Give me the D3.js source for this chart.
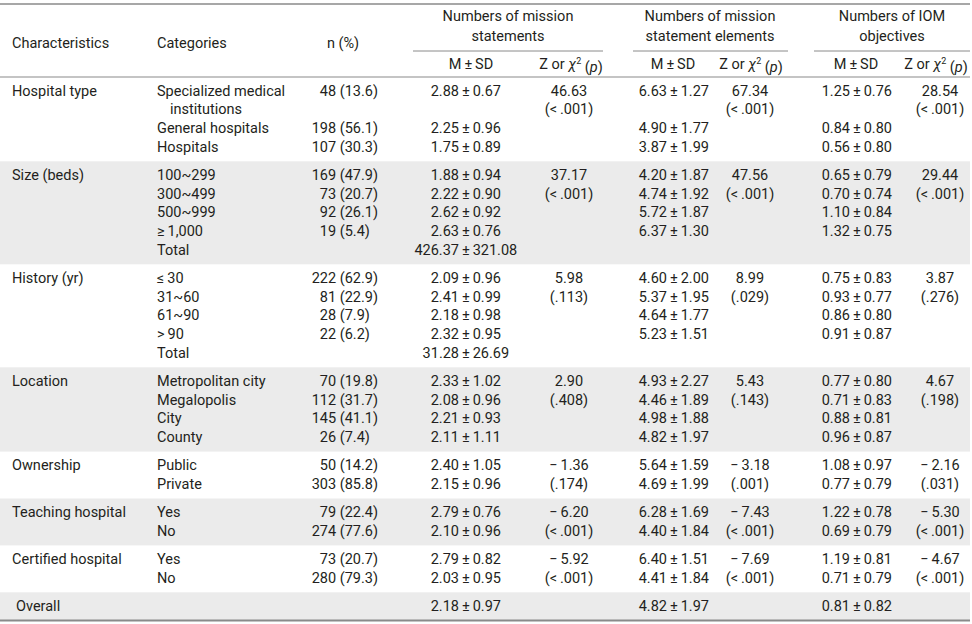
<!DOCTYPE html>
<html><head><meta charset="utf-8">
<script src="https://cdn.jsdelivr.net/npm/d3@7"></script>
<style>
html,body{margin:0;padding:0;background:#fff;}
svg{display:block;}
text{font-family:Roboto,"Noto Sans",sans-serif;font-size:14.5px;fill:#231f20;}
</style></head>
<body>
<svg id="chart" width="972" height="624"></svg>
<script>
// ---------- data ----------
const characteristics = ["Hospital type","Size (beds)","History (yr)","Location","Ownership","Teaching hospital","Certified hospital","Overall"];
const rowGroup   = [0,0,0, 1,1,1,1,1, 2,2,2,2,2, 3,3,3,3, 4,4, 5,5, 6,6, 7];
const categories = ["Specialized medical|institutions","General hospitals","Hospitals",
  "100~299","300~499","500~999","\u2265\u20091,000","Total",
  "\u2264\u200930","31~60","61~90",">\u200990","Total",
  "Metropolitan city","Megalopolis","City","County",
  "Public","Private","Yes","No","Yes","No",""];
const nCount = [48,198,107, 169,73,92,19,null, 222,81,28,22,null, 70,112,145,26, 50,303, 79,274, 73,280, null];
const nPct   = [13.6,56.1,30.3, 47.9,20.7,26.1,5.4,null, 62.9,22.9,7.9,6.2,null, 19.8,31.7,41.1,7.4, 14.2,85.8, 22.4,77.6, 20.7,79.3, null];
const statementMean = [2.88,2.25,1.75, 1.88,2.22,2.62,2.63,426.37, 2.09,2.41,2.18,2.32,31.28, 2.33,2.08,2.21,2.11, 2.40,2.15, 2.79,2.10, 2.79,2.03, 2.18];
const statementSD   = [0.67,0.96,0.89, 0.94,0.90,0.92,0.76,321.08, 0.96,0.99,0.98,0.95,26.69, 1.02,0.96,0.93,1.11, 1.05,0.96, 0.76,0.96, 0.82,0.95, 0.97];
const elementMean   = [6.63,4.90,3.87, 4.20,4.74,5.72,6.37,null, 4.60,5.37,4.64,5.23,null, 4.93,4.46,4.98,4.82, 5.64,4.69, 6.28,4.40, 6.40,4.41, 4.82];
const elementSD     = [1.27,1.77,1.99, 1.87,1.92,1.87,1.30,null, 2.00,1.95,1.77,1.51,null, 2.27,1.89,1.88,1.97, 1.59,1.99, 1.69,1.84, 1.51,1.84, 1.97];
const iomMean       = [1.25,0.84,0.56, 0.65,0.70,1.10,1.32,null, 0.75,0.93,0.86,0.91,null, 0.77,0.71,0.88,0.96, 1.08,0.77, 1.22,0.69, 1.19,0.71, 0.81];
const iomSD         = [0.76,0.80,0.80, 0.79,0.74,0.84,0.75,null, 0.83,0.77,0.80,0.87,null, 0.80,0.83,0.81,0.87, 0.97,0.79, 0.78,0.79, 0.81,0.79, 0.82];
const statementStat = [46.63,37.17,5.98,2.90,-1.36,-6.20,-5.92,null];
const statementP    = ["<.001","<.001",".113",".408",".174","<.001","<.001",null];
const elementStat   = [67.34,47.56,8.99,5.43,-3.18,-7.43,-7.69,null];
const elementP      = ["<.001","<.001",".029",".143",".001","<.001","<.001",null];
const iomStat       = [28.54,29.44,3.87,4.67,-2.16,-5.30,-4.67,null];
const iomP          = ["<.001","<.001",".276",".198",".031","<.001","<.001",null];
const groupTitles = [["Numbers of mission","statements"],["Numbers of mission","statement elements"],["Numbers of IOM","objectives"]];

// ---------- layout ----------
const svg = d3.select("#chart");
const W = 970, headerBottom = 77, lineH = 18.7, groupPad = 9.5, firstOff = 13.5;

const rowLines = categories.map(c => c.split("|").length);
const groupLineCount = characteristics.map((_, g) => d3.sum(rowLines.filter((_, i) => rowGroup[i] === g)));
const groupTop = [];
let acc = headerBottom;
groupLineCount.forEach((n, g) => { groupTop.push(acc); acc += n * lineH + groupPad; });
const tableBottom = acc;

const rowY = [];
{
  const used = characteristics.map(() => 0);
  categories.forEach((c, i) => {
    const g = rowGroup[i];
    rowY.push(groupTop[g] + firstOff + used[g] * lineH);
    used[g] += rowLines[i];
  });
}
const lineY = (g, k) => groupTop[g] + firstOff + k * lineH;

const colX = d3.scaleOrdinal()
  .domain(["char","cat","nEnd","pm1","z1","pm2","z2","pm3","z3","g1","g2","g3"])
  .range([12,157,378,459,569,667,750,850,940,508,710,892]);

// stripes
const stripeGroups = [1,3,5,7];
svg.append("g").selectAll("rect").data(stripeGroups).join("rect")
  .attr("x", 0).attr("width", W)
  .attr("y", g => groupTop[g])
  .attr("height", g => (g + 1 < groupTop.length ? groupTop[g + 1] : tableBottom) - groupTop[g])
  .attr("fill", "#ebebeb");

// rules
const rules = svg.append("g").attr("stroke", "#8a8a8a");
rules.append("line").attr("x1", 0).attr("x2", W).attr("y1", 4).attr("y2", 4).attr("stroke-width", 1.5);
rules.append("line").attr("x1", 0).attr("x2", W).attr("y1", headerBottom).attr("y2", headerBottom).attr("stroke-width", 1.2);
rules.append("line").attr("x1", 0).attr("x2", W).attr("y1", tableBottom).attr("y2", tableBottom).attr("stroke-width", 2.2);
const spans = [[413,603],[633,788],[814,970]];
rules.selectAll(".sp").data(spans).join("line")
  .attr("x1", d => d[0]).attr("x2", d => d[1]).attr("y1", 51).attr("y2", 51).attr("stroke-width", 1);

// header
const hdr = svg.append("g");
hdr.append("text").attr("x", colX("char")).attr("y", 43).attr("dy", "0.35em").text("Characteristics");
hdr.append("text").attr("x", colX("cat")).attr("y", 43).attr("dy", "0.35em").text("Categories");
hdr.append("text").attr("x", 343).attr("y", 43).attr("dy", "0.35em").attr("text-anchor", "middle").text("n (%)");
["g1","g2","g3"].forEach((k, i) => {
  groupTitles[i].forEach((t, j) => {
    hdr.append("text").attr("x", colX(k)).attr("y", 16 + j * 19.5).attr("dy", "0.35em")
      .attr("text-anchor", "middle").text(t);
  });
});
const subM = [471, 673, 856];
subM.forEach(x => hdr.append("text").attr("x", x).attr("y", 64).attr("dy", "0.35em").attr("text-anchor", "middle").text("M\u2009\u00b1\u2009SD"));
[571, 751, 936].forEach(x => {
  const t = hdr.append("text").attr("x", x).attr("y", 64).attr("dy", "0.35em").attr("text-anchor", "middle");
  t.append("tspan").text("Z or ");
  t.append("tspan").attr("font-style", "italic").text("\u03c7");
  t.append("tspan").attr("font-size", "9px").attr("dy", "-0.6em").text("2");
  t.append("tspan").attr("dy", "0.6em").text(" (");
  t.append("tspan").attr("font-style", "italic").text("p");
  t.append("tspan").text(")");
});

// body
const body = svg.append("g");
body.selectAll(".ch").data(characteristics).join("text")
  .attr("x", (d, g) => g === 7 ? 16 : colX("char"))
  .attr("y", (d, g) => lineY(g, 0)).attr("dy", "0.35em").text(d => d);
categories.forEach((c, i) => {
  c.split("|").forEach((part, j) => {
    body.append("text").attr("x", colX("cat") + (j > 0 ? 13 : 0))
      .attr("y", rowY[i] + j * lineH).attr("dy", "0.35em").text(part);
  });
});
const digitW = (() => { const t = svg.append("text").text("0"); const w = t.node().getComputedTextLength(); t.remove(); return w; })();
nCount.forEach((n, i) => {
  if (n == null) return;
  const pad = nPct[i] < 10 ? digitW : 0;
  body.append("text").attr("x", colX("nEnd") - pad).attr("y", rowY[i]).attr("dy", "0.35em")
    .attr("text-anchor", "end").text(`${n} (${nPct[i].toFixed(1)})`);
});
function msd(means, sds, key) {
  means.forEach((m, i) => {
    if (m == null) return;
    body.append("text").attr("x", colX(key)).attr("y", rowY[i]).attr("dy", "0.35em")
      .attr("text-anchor", "end").text(m.toFixed(2));
    body.append("text").attr("x", colX(key)).attr("y", rowY[i]).attr("dy", "0.35em")
      .text("\u2009\u00b1\u2009" + sds[i].toFixed(2));
  });
}
msd(statementMean, statementSD, "pm1");
msd(elementMean, elementSD, "pm2");
msd(iomMean, iomSD, "pm3");
const fmtStat = v => v < 0 ? "\u2212\u2009" + Math.abs(v).toFixed(2) : v.toFixed(2);
function stats(vals, ps, key) {
  vals.forEach((v, g) => {
    if (v == null) return;
    body.append("text").attr("x", colX(key)).attr("y", lineY(g, 0)).attr("dy", "0.35em")
      .attr("text-anchor", "middle").text(fmtStat(v));
    body.append("text").attr("x", colX(key)).attr("y", lineY(g, 1)).attr("dy", "0.35em")
      .attr("text-anchor", "middle").text(`(${ps[g].replace("<", "<\u2009")})`);
  });
}
stats(statementStat, statementP, "z1");
stats(elementStat, elementP, "z2");
stats(iomStat, iomP, "z3");
</script>
</body></html>
